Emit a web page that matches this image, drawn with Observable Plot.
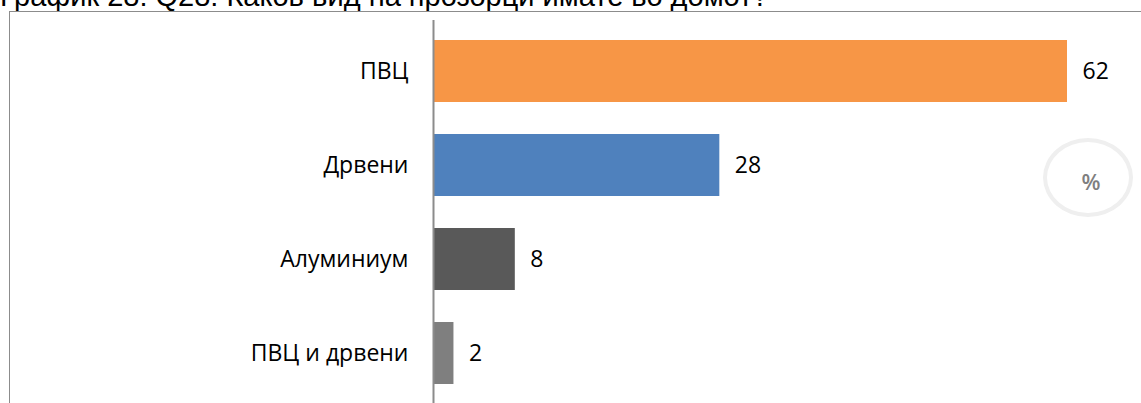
<!DOCTYPE html>
<html>
<head>
<meta charset="utf-8">
<script src="https://cdn.jsdelivr.net/npm/d3@7"></script>
<script src="https://cdn.jsdelivr.net/npm/@observablehq/plot@0.6"></script>
<style>
  html, body { margin: 0; padding: 0; background: #fff; overflow: hidden; }
  #wrap { position: relative; width: 1141px; height: 403px; overflow: hidden; }
  #title { position: absolute; left: 0; top: -18px; font-family: "Liberation Sans", Arial, sans-serif; font-size: 29px; color: #000; white-space: nowrap; margin: 0; line-height: 29px; }
  #box { position: absolute; left: 9px; top: 11px; width: 1200px; height: 500px; border: 1.5px solid #8c8c8c; box-sizing: border-box; }
  #pct { position: absolute; left: 1043px; top: 138px; width: 90px; height: 79px; border: 4px solid #efefef; border-radius: 50%; box-sizing: border-box; display: flex; align-items: center; justify-content: center; font-family: "Open Sans", sans-serif; font-weight: 600; font-size: 22px; color: #7f7f7f; padding-left: 6px; padding-top: 6px; }
  #chart { position: absolute; left: 0; top: 0; }
</style>
</head>
<body>
<div id="wrap">
  <div id="title">График 28: Q28: Каков вид на прозорци имате во домот?</div>
  <div id="box"></div>
  <div id="pct">%</div>
  <div id="chart"></div>
</div>
<script>
const categories = ["ПВЦ", "Дрвени", "Алуминиум", "ПВЦ и дрвени"];
const values = [62, 28, 8, 2];
const colors = ["#F79646", "#4F81BD", "#595959", "#7F7F7F"];

const data = categories.map((c, i) => ({category: c, value: values[i], color: colors[i]}));

const chart = Plot.plot({
  width: 1141,
  height: 403,
  marginLeft: 433,
  marginRight: 74,
  marginTop: 20,
  marginBottom: 0,
  style: {background: "transparent", fontFamily: "'Open Sans', sans-serif", fontSize: "23px", color: "#000"},
  x: {domain: [0, 62], range: [433, 1067], axis: null},
  y: {domain: categories, range: [8, 417], padding: 0.34, label: null},
  marks: [
    Plot.barX(data, {x: "value", y: "category", fill: "color"}),
    Plot.ruleX([0], {stroke: "#8c8c8c", strokeWidth: 2}),
    Plot.text(data, {x: "value", y: "category", text: d => String(d.value), textAnchor: "start", dx: 15, fill: "#000", fontSize: 23}),
    Plot.axisY({tickSize: 0, tickPadding: 25, fontSize: 23, fill: "#000", label: null})
  ]
});
document.getElementById("chart").appendChild(chart);
</script>
</body>
</html>
